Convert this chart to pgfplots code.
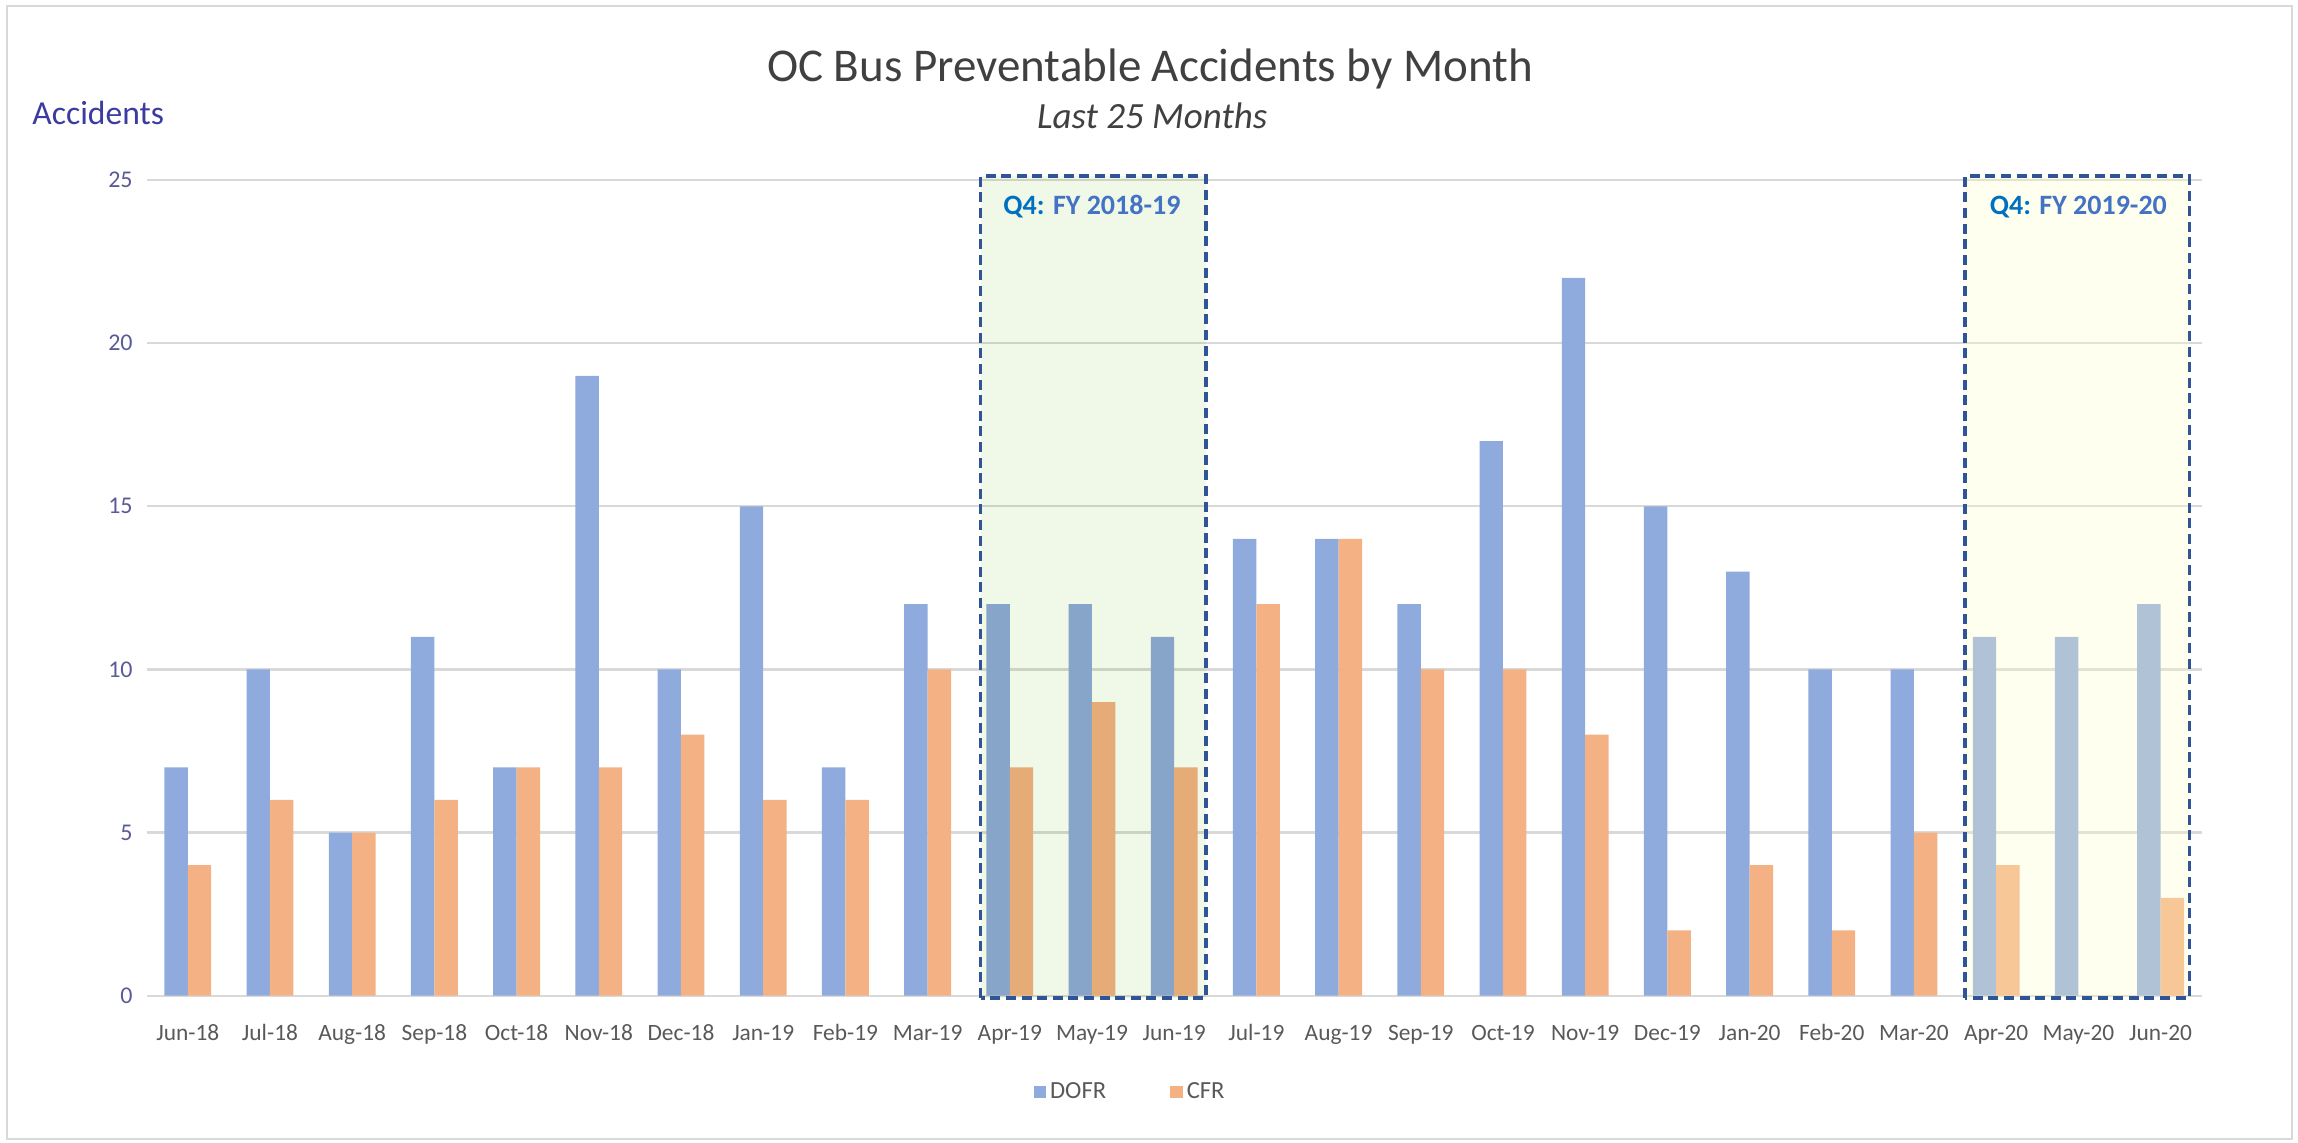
\documentclass[border=0pt]{standalone}
\usepackage{pgfplots}
\pgfplotsset{compat=1.18}
\usepackage{pgfplotstable}
\usepackage{fontspec}
\setmainfont{Carlito}
\definecolor{dofr}{RGB}{143,170,220}
\definecolor{cfr}{RGB}{244,177,131}
\definecolor{gridc}{RGB}{217,217,217}
\definecolor{boxc}{RGB}{47,85,151}
\definecolor{greenf}{RGB}{240,248,232}
\definecolor{yellowf}{RGB}{255,255,202}
\definecolor{titlec}{RGB}{64,64,64}
\definecolor{tickc}{RGB}{89,89,89}
\definecolor{ytickc}{RGB}{90,90,150}
\definecolor{acc}{RGB}{60,60,160}
\definecolor{qc}{RGB}{0,112,192}
\definecolor{fyc}{RGB}{68,114,196}

\pgfplotstableread{
x dofr cfr
0 7 4
1 10 6
2 5 5
3 11 6
4 7 7
5 19 7
6 10 8
7 15 6
8 7 6
9 12 10
10 12 7
11 12 9
12 11 7
13 14 12
14 14 14
15 12 10
16 17 10
17 22 8
18 15 2
19 13 4
20 10 2
21 10 5
22 11 4
23 11 0
24 12 3
}\data

\begin{document}
\begin{tikzpicture}
\useasboundingbox (-73.35pt,-73.15pt) rectangle (1075.65pt,497.85pt);
\draw[gridc, line width=1.2pt] (-69.85pt,-71.65pt) rectangle (1072.65pt,494.85pt);
\begin{axis}[
  at={(0pt,0pt)}, anchor=south west,
  scale only axis, width=1027.5pt, height=407.85pt,
  xmin=-0.5, xmax=24.5, ymin=0, ymax=25,
  ytick={0,5,...,25},
  xtick={0,...,24},
  xticklabels={Jun-18,Jul-18,Aug-18,Sep-18,Oct-18,Nov-18,Dec-18,Jan-19,Feb-19,Mar-19,Apr-19,May-19,Jun-19,Jul-19,Aug-19,Sep-19,Oct-19,Nov-19,Dec-19,Jan-20,Feb-20,Mar-20,Apr-20,May-20,Jun-20},
  axis line style={draw=none},
  tick style={draw=none},
  ymajorgrids, major grid style={gridc, line width=1.2pt},
  /pgf/number format/assume math mode=true,
  yticklabel style={font=\fontsize{12}{14}\selectfont, text=ytickc, xshift=-3.5pt},
  xticklabel style={font=\fontsize{11.7}{14}\selectfont, text=tickc, anchor=base, yshift=-18pt},
  ybar, bar width=0.285,
  clip=false,
  legend columns=2,
  legend style={at={(0.479,-0.118)}, anchor=center, draw=none, fill=none,
    font=\fontsize{12.3}{14}\selectfont, text=tickc,
    /tikz/every even column/.append style={column sep=30pt}},
]
\addplot[fill=dofr, draw=none, bar shift=-0.1425,
  legend image code/.code={\fill[dofr] (0pt,-3.15pt) rectangle (6.3pt,3.15pt);}]
  table[x=x,y=dofr]{\data};
\addlegendentry{DOFR}
\addplot[fill=cfr, draw=none, bar shift=0.1425,
  legend image code/.code={\fill[cfr] (0pt,-3.15pt) rectangle (6.3pt,3.15pt);}]
  table[x=x,y=cfr]{\data};
\addlegendentry{CFR}

\fill[greenf, blend mode=multiply] (axis cs:9.646,-0.07) rectangle (axis cs:12.387,25.12);
\fill[yellowf, fill opacity=0.286] (axis cs:21.62,-0.07) rectangle (axis cs:24.35,25.12);
\draw[boxc, line width=1.7pt, dash pattern=on 5pt off 2.8pt] (axis cs:9.646,-0.07) rectangle (axis cs:12.387,25.12);
\draw[boxc, line width=1.7pt, dash pattern=on 5pt off 2.8pt] (axis cs:21.62,-0.07) rectangle (axis cs:24.35,25.12);
\node[font=\bfseries\fontsize{14}{16}\selectfont] at (axis cs:11,24.17) {\textcolor{qc}{Q4:} \textcolor{fyc}{FY 2018-19}};
\node[font=\bfseries\fontsize{14}{16}\selectfont] at (axis cs:23,24.17) {\textcolor{qc}{Q4:} \textcolor{fyc}{FY 2019-20}};
\end{axis}
\node[anchor=base, font=\fontsize{23.5}{28}\selectfont, text=titlec] at (501.65pt,456.85pt) {OC Bus Preventable Accidents by Month};
\node[anchor=base, font=\itshape\fontsize{18.5}{22}\selectfont, text=titlec] at (502.75pt,433.35pt) {Last 25 Months};
\node[anchor=base west, inner sep=0pt, font=\fontsize{16.8}{20}\selectfont, text=acc] at (-57.35pt,435.55pt) {Accidents};
\end{tikzpicture}
\end{document}
